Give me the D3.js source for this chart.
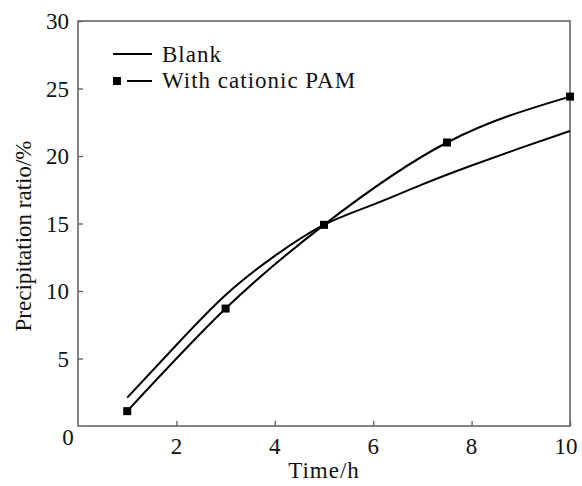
<!DOCTYPE html>
<html>
<head>
<meta charset="utf-8">
<script src="https://cdn.jsdelivr.net/npm/d3@7"></script>
<style>
body { margin: 0; background: #fff; }
text { font-family: "Liberation Serif", "Times New Roman", serif; fill: #111; }
</style>
</head>
<body>
<div id="chart"></div>
<script>
// values
var blankTime = [1, 2, 3, 4, 5, 6, 7, 8, 9, 10];
var blankRatio = [2.1, 6.0, 9.7, 12.6, 14.9, 16.4, 17.9, 19.3, 20.6, 21.85];
var pamTime = [1, 3, 5, 7.5, 10];
var pamRatio = [1.1, 8.7, 14.9, 21.0, 24.4];
var xTicks = [2, 4, 6, 8, 10];
var yTicks = [5, 10, 15, 20, 25, 30];
var seriesNames = ["Blank", "With cationic PAM"];

var width = 582, height = 486;
var margin = { left: 78, top: 21, right: 12, bottom: 60 };
var fs = 23;

var svg = d3.select("#chart").append("svg")
    .attr("width", width)
    .attr("height", height);

var x = d3.scaleLinear().domain([0, 10]).range([margin.left, width - margin.right]);
var y = d3.scaleLinear().domain([0, 30]).range([height - margin.bottom, margin.top]);

// frame
svg.append("rect")
    .attr("x", x(0)).attr("y", y(30))
    .attr("width", x(10) - x(0)).attr("height", y(0) - y(30))
    .attr("fill", "none")
    .attr("stroke", "#666")
    .attr("stroke-width", 1.6);

// axes with inward ticks
svg.append("g")
    .attr("transform", "translate(0," + y(0) + ")")
    .call(d3.axisTop(x).tickValues(xTicks).tickSize(5).tickFormat(""));
svg.append("g")
    .attr("transform", "translate(" + x(0) + ",0)")
    .call(d3.axisRight(y).tickValues(yTicks).tickSize(5).tickFormat(""));
svg.selectAll(".domain").remove();
svg.selectAll(".tick line").attr("stroke", "#666").attr("stroke-width", 1.4);

svg.selectAll(".xlab").data(xTicks).enter().append("text")
    .attr("x", function(d) { return x(d) - (d === 10 ? 4 : 0); })
    .attr("y", y(0) + 28)
    .attr("text-anchor", "middle")
    .attr("font-size", fs)
    .text(function(d) { return d; });

svg.selectAll(".ylab").data(yTicks).enter().append("text")
    .attr("x", x(0) - 9)
    .attr("y", function(d) { return y(d) + 8; })
    .attr("text-anchor", "end")
    .attr("font-size", fs)
    .text(function(d) { return d; });

// the shared zero at the corner
svg.append("text")
    .attr("x", x(0) - 10)
    .attr("y", y(0) + 19)
    .attr("text-anchor", "middle")
    .attr("font-size", fs)
    .text("0");

svg.append("text")
    .attr("x", 324)
    .attr("y", height - 8)
    .attr("text-anchor", "middle")
    .attr("font-size", fs)
    .attr("letter-spacing", 1)
    .text("Time/h");

svg.append("text")
    .attr("transform", "translate(31," + 236 + ") rotate(-90)")
    .attr("text-anchor", "middle")
    .attr("font-size", fs)
    .text("Precipitation ratio/%");

// curves
var line = d3.line()
    .x(function(d) { return x(d[0]); })
    .y(function(d) { return y(d[1]); })
    .curve(d3.curveNatural);

var blankData = d3.zip(blankTime, blankRatio);
var pamData = d3.zip(pamTime, pamRatio);

svg.append("path")
    .datum(blankData)
    .attr("d", line)
    .attr("fill", "none")
    .attr("stroke", "#000")
    .attr("stroke-width", 2);

svg.append("path")
    .datum(pamData)
    .attr("d", line)
    .attr("fill", "none")
    .attr("stroke", "#000")
    .attr("stroke-width", 2);

svg.selectAll(".pam").data(pamData).enter().append("rect")
    .attr("x", function(d) { return x(d[0]) - 4; })
    .attr("y", function(d) { return y(d[1]) - 4; })
    .attr("width", 8)
    .attr("height", 8)
    .attr("fill", "#000");

// legend
var lg = svg.append("g");
lg.append("line")
    .attr("x1", 113).attr("x2", 152).attr("y1", 54).attr("y2", 54)
    .attr("stroke", "#000").attr("stroke-width", 2);
lg.append("text")
    .attr("x", 162).attr("y", 62)
    .attr("font-size", fs)
    .attr("letter-spacing", 1)
    .text(seriesNames[0]);
lg.append("rect")
    .attr("x", 113).attr("y", 77).attr("width", 8).attr("height", 8)
    .attr("fill", "#000");
lg.append("line")
    .attr("x1", 127).attr("x2", 152).attr("y1", 81).attr("y2", 81)
    .attr("stroke", "#000").attr("stroke-width", 2);
lg.append("text")
    .attr("x", 162).attr("y", 88)
    .attr("font-size", fs)
    .attr("letter-spacing", 1)
    .text(seriesNames[1]);
</script>
</body>
</html>
